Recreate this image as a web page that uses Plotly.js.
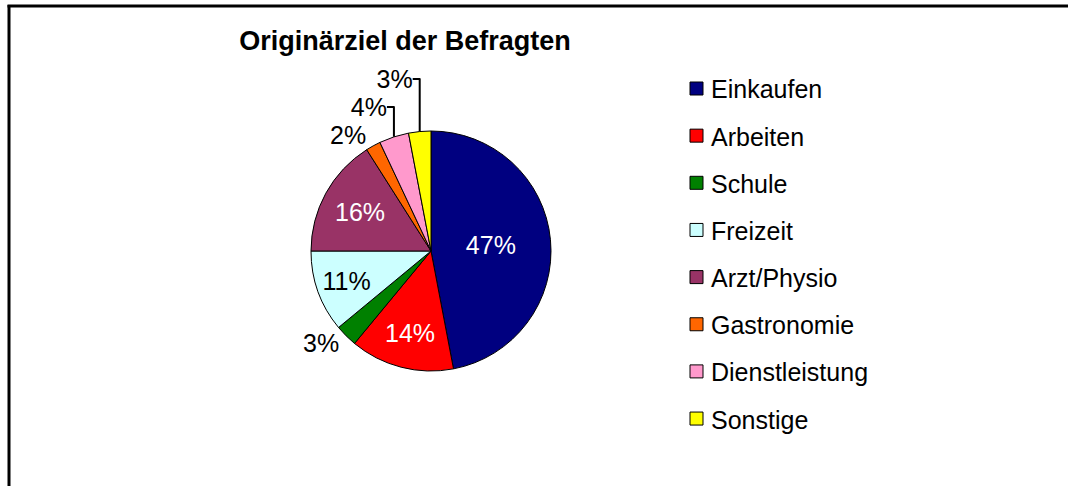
<!DOCTYPE html>
<html>
<head>
<meta charset="utf-8">
<script src="https://cdn.plot.ly/plotly-3.0.1.min.js"></script>
<style>html,body{margin:0;padding:0;background:#fff;}#chart{width:1068px;height:486px;}</style>
</head>
<body>
<div id="chart"></div>
<script>
const categories = ["Einkaufen","Arbeiten","Schule","Freizeit","Arzt/Physio","Gastronomie","Dienstleistung","Sonstige"];
const shares = [47, 14, 3, 11, 16, 2, 4, 3];
const sliceColors = ["#000080","#FF0000","#008000","#CCFFFF","#993366","#FF6600","#FF99CC","#FFFF00"];
const labelColors = ["#FFFFFF","#FFFFFF","#000000","#000000","#FFFFFF","#000000","#000000","#000000"];
const labelPositions = ["inside","inside","outside","inside","inside","outside","outside","outside"];
const chartTitle = "Originärziel der Befragten";

const W = 1068, H = 486;
const FONT = "Liberation Sans, Arial, sans-serif";

const trace = {
  type: "pie",
  labels: categories,
  values: shares,
  sort: false,
  direction: "clockwise",
  rotation: 0,
  marker: {colors: sliceColors, line: {color: "#000000", width: 1}},
  texttemplate: "%{value}%",
  textposition: labelPositions,
  insidetextorientation: "horizontal",
  textfont: {family: FONT, size: 25, color: labelColors},
  showlegend: false,
  hoverinfo: "label+percent",
  domain: {x: [311 / W, 551 / W], y: [1 - 371 / H, 1 - 131 / H]}
};

const shapes = [
  {type: "line", xref: "paper", yref: "paper", x0: 9 / W, x1: 9 / W, y0: 0, y1: 1 - 5 / H, line: {color: "#000", width: 3}},
  {type: "line", xref: "paper", yref: "paper", x0: 7.5 / W, x1: 1, y0: 1 - 6 / H, y1: 1 - 6 / H, line: {color: "#000", width: 3}}
];
const annotations = [];
const legTop = 88.5, legStep = 47.15, sq = 13, sqLeft = 690;
categories.forEach((c, i) => {
  const cy = legTop + i * legStep;
  shapes.push({type: "rect", xref: "paper", yref: "paper",
    x0: sqLeft / W, x1: (sqLeft + sq) / W, y0: 1 - (cy + sq / 2) / H, y1: 1 - (cy - sq / 2) / H,
    fillcolor: sliceColors[i], line: {color: "#000", width: 1}});
  annotations.push({xref: "paper", yref: "paper", x: 709 / W, y: 1 - (cy + 1) / H,
    xanchor: "left", yanchor: "middle", showarrow: false, text: c,
    font: {family: FONT, size: 25, color: "#000"}});
});

const layout = {
  width: W, height: H,
  margin: {l: 0, r: 0, t: 0, b: 0},
  paper_bgcolor: "#FFFFFF",
  plot_bgcolor: "#FFFFFF",
  title: {text: "<b>" + chartTitle + "</b>", x: 405 / W, xanchor: "center", y: 1 - 41 / H, yanchor: "middle", yref: "container",
    font: {family: FONT, size: 27, color: "#000"}},
  shapes: shapes,
  annotations: annotations
};

Plotly.newPlot("chart", [trace], layout, {displayModeBar: false, staticPlot: true});
</script>
</body>
</html>
